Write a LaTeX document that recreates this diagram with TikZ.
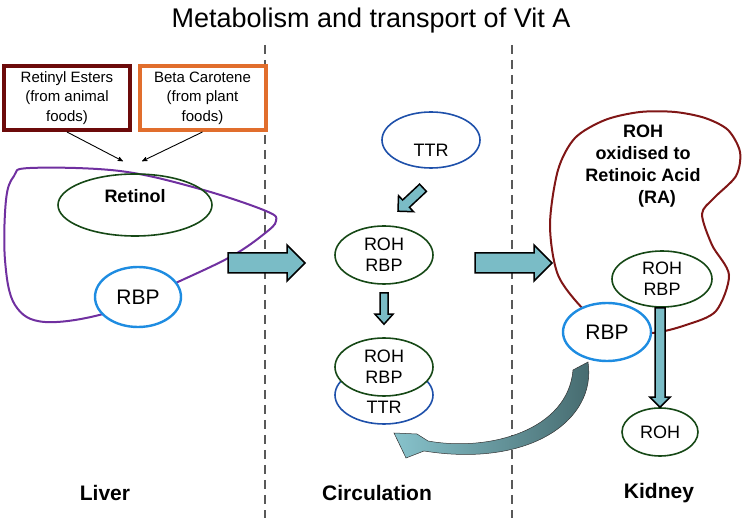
\documentclass[tikz,border=0pt]{standalone}
\usepackage{fontspec}
\setmainfont{Liberation Sans}
\usepackage{xcolor}
\usepackage{tikz}
\usetikzlibrary{shapes,arrows,positioning,calc}

\definecolor{ovalgreen}{RGB}{22,72,22}
\definecolor{rbpblue}{RGB}{30,140,225}
\definecolor{ttrblue}{RGB}{30,80,170}
\definecolor{liverpurple}{RGB}{112,48,160}
\definecolor{kidneyred}{RGB}{128,22,22}
\definecolor{esterred}{RGB}{108,10,10}
\definecolor{carotene}{RGB}{225,110,45}
\definecolor{arrowteal}{RGB}{122,188,198}
\definecolor{slate}{RGB}{68,104,108}

% fat block arrow from #1 to #2: half shaft #3, half head #4, head length #5
\newcommand{\fatlink}[5]{%
  \draw[fatarrow] ($#1!#3!90:#2$) -- ($#2!#5!#1!#3!-90:#1$) -- ($#2!#5!#1!#4!-90:#1$)
    -- #2 -- ($#2!#5!#1!#4!90:#1$) -- ($#2!#5!#1!#3!90:#1$) -- ($#1!#3!-90:#2$) -- cycle;}

\begin{document}
\begin{tikzpicture}[x=1pt,y=-1pt,
    txt/.style={font=\fontsize{18}{21}\selectfont,align=center},
    boldtxt/.style={font=\bfseries\fontsize{18}{22}\selectfont,align=center},
    oval/.style={ellipse,draw,line width=1.6pt,inner sep=0pt,txt},
    rohbox/.style={oval,draw=ovalgreen,fill=white,minimum width=98pt,minimum height=58pt},
    ttrbox/.style={oval,draw=ttrblue,minimum width=98pt,minimum height=58pt},
    rbpbox/.style={oval,draw=rbpblue,fill=white,line width=2.4pt,minimum width=86pt,minimum height=60pt,font=\fontsize{21}{24}\selectfont},
    foodbox/.style={draw,line width=4pt,minimum width=126pt,minimum height=64pt,align=center,font=\fontsize{15}{19.5}\selectfont},
    feed/.style={->,>=stealth',line width=0.9pt},
    fatarrow/.style={draw=black,line width=1.5pt,fill=arrowteal,line join=miter},
    divider/.style={draw=black!65,line width=2pt,dash pattern=on 9pt off 6pt},
    region/.style={font=\bfseries\fontsize{21}{24}\selectfont}]
  \useasboundingbox (0,0) rectangle (742,518);

  % Title and dividers
  \node[font=\fontsize{27}{31}\selectfont] (title) at (371,21) {Metabolism and transport of Vit A};
  \draw[divider] (265,45) -- (265,518);
  \draw[divider] (512,45) -- (512,518);

  % Liver
  \draw[liverpurple,line width=2pt] plot[smooth cycle,tension=0.6] coordinates {(30,168) (120,171) (200,189) (266,211) (276,221) (264,234) (232,256) (180,281) (110,312) (45,322) (15,305) (5,260) (6,200) (14,176)};
  \node[foodbox,draw=esterred] (esters) at (67,98) {Retinyl Esters\\(from animal\\foods)};
  \node[foodbox,draw=carotene] (carotene) at (202.5,98) {Beta Carotene\\(from plant\\foods)};
  \node[oval,draw=ovalgreen,minimum width=154pt,minimum height=62pt,
    label={[boldtxt,yshift=9pt]center:Retinol}] (retinol) at (135,205) {};
  \draw[feed] (esters.south) -- ([shift={(-12,-12)}]retinol.north);
  \draw[feed] (carotene.south) -- ([shift={(7,-12)}]retinol.north);
  \node[rbpbox] (liverrbp) at (138,297) {RBP};

  % Circulation
  \node[ttrbox,minimum height=56pt,label={[txt,yshift=-10pt]center:TTR}] (ttr) at (431,140) {};
  \node[rohbox] (circrb) at (384,255) {ROH\\RBP};
  \node[ttrbox,label={[txt,yshift=-12pt]center:TTR}] (bound) at (384,395) {};
  \node[rohbox] (boundrb) at (384,367) {ROH\\RBP};
  \coordinate (liverout) at (228,263);
  \coordinate (circin) at (305,263);
  \coordinate (circout) at (475,263);
  \coordinate (kidneyin) at (552,263);
  \fatlink{(liverout)}{(circin)}{10pt}{18pt}{18pt}
  \fatlink{(circout)}{(kidneyin)}{10pt}{18pt}{18pt}
  \fatlink{([shift={(-8,19)}]ttr.south)}{([shift={(14,-14)}]circrb.north)}{5pt}{11pt}{11pt}
  \fatlink{([yshift=-8pt]circrb.south)}{([yshift=13pt]boundrb.north)}{4pt}{9pt}{10pt}

  % Kidney
  \draw[kidneyred,line width=2pt] plot[smooth cycle,tension=0.5] coordinates {(575,138) (605,120) (640,112) (675,112) (705,118) (728,130) (740,152) (736,176) (714,198) (702,214) (712,245) (729,275) (716,311) (686,325) (652,333) (610,330) (584,310) (558,275) (550,225) (558,170)};
  \node[boldtxt] (ra) at (643,166) {ROH\\oxidised to\\Retinoic Acid\\\hspace*{28pt}(RA)};
  \node[rbpbox,minimum width=88pt,minimum height=58pt] (kidneyrbp) at (607,332) {RBP};
  \node[rohbox,minimum width=100pt,minimum height=56pt] (kidneyrb) at (662,279) {ROH\\RBP};
  \node[rohbox,minimum width=76pt,minimum height=48pt] (roh) at (660,432) {ROH};
  \fatlink{([xshift=-2pt]kidneyrb.south)}{(roh.north)}{5pt}{10pt}{10pt}

  % RBP returns to circulation
  \shadedraw[left color=arrowteal!90!white,right color=slate,draw=black!80,line width=0.5pt]
    (588,362) .. controls (597,420) and (530,468) .. (424,451) -- (406,458) -- (394,433)
    -- (417,434) -- (428,441) .. controls (490,452) and (568,430) .. (573,370) -- cycle;

  % Region labels
  \node[region] (liver) at (105,493) {Liver};
  \node[region] (circ) at (377,493) {Circulation};
  \node[region] (kidney) at (659,493) {Kidney};
\end{tikzpicture}
\end{document}
